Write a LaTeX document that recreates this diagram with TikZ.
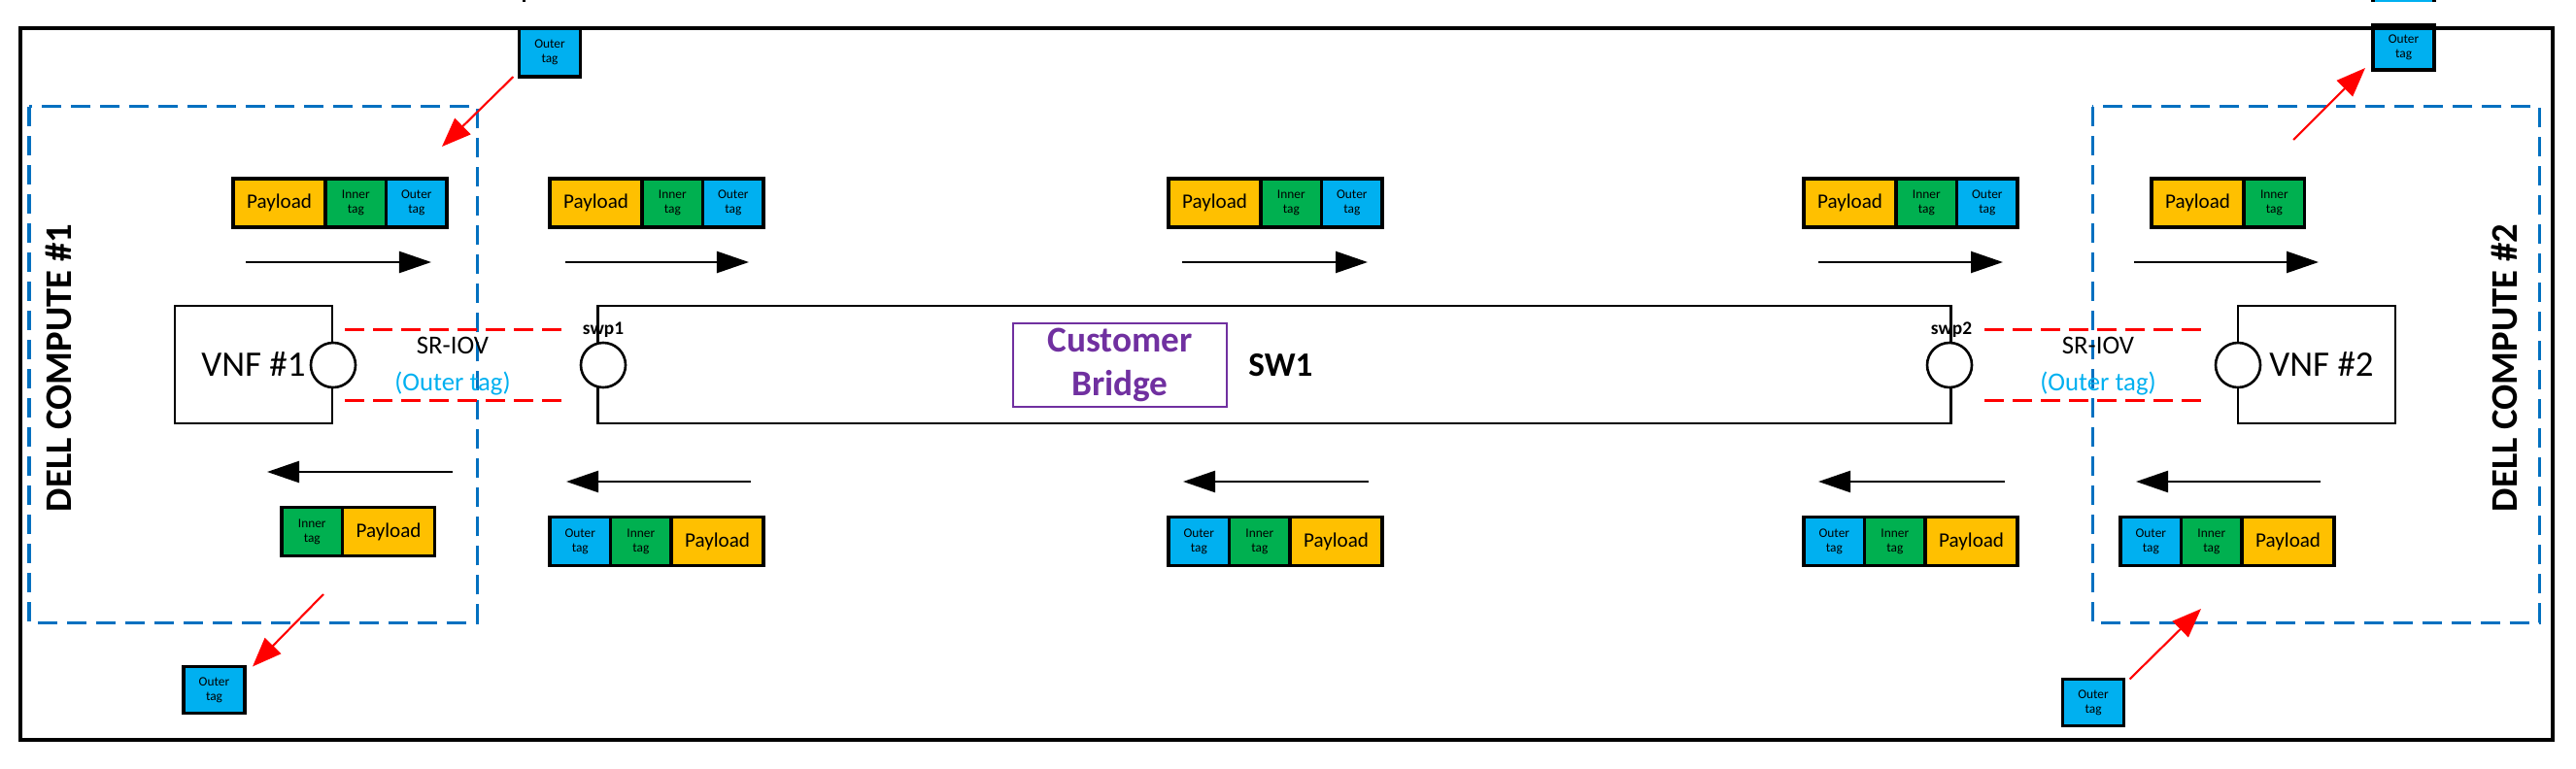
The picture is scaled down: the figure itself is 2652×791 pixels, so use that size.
\documentclass[tikz,border=0pt]{standalone}
\usepackage{fontspec}
\setmainfont{Carlito}
\usetikzlibrary{arrows.meta}
\definecolor{cPay}{HTML}{FFC000}
\definecolor{cIn}{HTML}{00B050}
\definecolor{cOut}{HTML}{00B0F0}
\definecolor{cBlue}{HTML}{0070C0}
\definecolor{cPurple}{HTML}{7030A0}
\definecolor{cRed}{HTML}{FF0000}
\newcommand\paysize{\fontsize{6}{7}\selectfont}
\newcommand\tagsize{\fontsize{3.8}{4.3}\selectfont}
\begin{document}
\begin{tikzpicture}[x=0.01cm,y=-0.01cm,
  seg/.style={draw=black, line width=0.036cm, minimum height=0.5cm, inner sep=0pt, outer sep=0pt, anchor=west},
  pay/.style={seg, fill=cPay, minimum width=0.95cm, font=\paysize},
  inn/.style={seg, fill=cIn, minimum width=0.625cm, font=\tagsize, align=center},
  outt/.style={seg, fill=cOut, minimum width=0.625cm, font=\tagsize, align=center},
  lonetag/.style={draw=black, line width=0.036cm, fill=cOut, minimum width=0.63cm, minimum height=0.48cm, inner sep=0pt, outer sep=0pt, font=\tagsize, align=center},
  boxx/.style={draw=black, line width=0.028cm, inner sep=0pt, outer sep=0pt},
  port/.style={circle, draw=black, fill=white, minimum size=0.46cm, inner sep=0pt, line width=0.026cm},
  flow/.style={line width=0.024cm, -{Triangle[length=0.33cm,width=0.22cm]}},
  redarr/.style={cRed, line width=0.021cm, -{Triangle[length=0.3cm,width=0.23cm]}},
  tunnel/.style={cRed, line width=0.03cm, dash pattern=on 0.2cm off 0.09cm},
  compute/.style={cBlue, line width=0.03cm, dash pattern=on 0.2cm off 0.1cm},
  sriov/.style={font=\fontsize{7.6}{9}\selectfont, anchor=base},
  portlbl/.style={font=\bfseries\fontsize{5.5}{6}\selectfont, anchor=base},
  dell/.style={rotate=90, font=\bfseries\fontsize{11}{13}\selectfont}
]
\useasboundingbox (0,0) rectangle (2652,791);

% compute hosts (dashed)
\draw[compute] (30,110) rectangle (491,641);
\draw[compute] (2154,110) rectangle (2614,641);
\node[dell] (dc1) at (60.5,379) {DELL COMPUTE \#1};
\node[dell] (dc2) at (2578,379) {DELL COMPUTE \#2};

% SR-IOV tunnels
\coordinate (t1a) at (355,339); \coordinate (t1b) at (585,339);
\coordinate (t1c) at (355,412); \coordinate (t1d) at (585,412);
\coordinate (t2a) at (2043,339); \coordinate (t2b) at (2272,339);
\coordinate (t2c) at (2043,412); \coordinate (t2d) at (2272,412);
\draw[tunnel] (t1a) -- (t1b);
\draw[tunnel] (t1c) -- (t1d);
\draw[tunnel] (t2a) -- (t2b);
\draw[tunnel] (t2c) -- (t2d);
\node[sriov] (sr1) at (466,364) {SR-IOV};
\node[sriov, text=cOut] (sr1b) at (466,402) {(Outer tag)};
\node[sriov] (sr2) at (2160,364) {SR-IOV};
\node[sriov, text=cOut] (sr2b) at (2160,402) {(Outer tag)};

% boxes
\node[boxx, minimum width=1.62cm, minimum height=1.21cm, font=\fontsize{10.5}{12}\selectfont] (vnf1) at (261,375.5) {VNF \#1};
\node[boxx, minimum width=1.62cm, minimum height=1.21cm, font=\fontsize{10.5}{12}\selectfont] (vnf2) at (2385,375.5) {\hspace*{0.1cm}VNF \#2};
\node[boxx, minimum width=13.92cm, minimum height=1.21cm] (sw1) at (1312,375.5) {};
\node[draw=cPurple, line width=0.018cm, minimum width=2.2cm, minimum height=0.86cm, inner sep=0pt, text=cPurple, font=\bfseries\fontsize{10.6}{12.8}\selectfont, align=center] (cb) at (1153,376) {Customer\\Bridge};
\node[font=\bfseries\fontsize{10}{12}\selectfont, anchor=base west] (sw1t) at (1273,387) {SW1};

% ports
\node[port] (vnf1p) at (343,376) {};
\node[port] (swp1p) at (621,376) {};
\node[port] (swp2p) at (2007,376) {};
\node[port] (vnf2p) at (2304,376) {};
\node[portlbl] (swp1) at (621,344) {swp1};
\node[portlbl] (swp2) at (2009,344) {swp2};

% top row packets
\node[pay] (p1a) at (240,209) {Payload};
\node[inn] (p1b) at (p1a.east) {Inner\\tag};
\node[outt] (p1c) at (p1b.east) {Outer\\tag};
\node[pay] (p2a) at (566,209) {Payload};
\node[inn] (p2b) at (p2a.east) {Inner\\tag};
\node[outt] (p2c) at (p2b.east) {Outer\\tag};
\node[pay] (p3a) at (1203,209) {Payload};
\node[inn] (p3b) at (p3a.east) {Inner\\tag};
\node[outt] (p3c) at (p3b.east) {Outer\\tag};
\node[pay] (p4a) at (1857,209) {Payload};
\node[inn] (p4b) at (p4a.east) {Inner\\tag};
\node[outt] (p4c) at (p4b.east) {Outer\\tag};
\node[pay] (p5a) at (2215,209) {Payload};
\node[inn] (p5b) at (p5a.east) {Inner\\tag};

% bottom row packets
\node[inn] (q1a) at (290,547.5) {Inner\\tag};
\node[pay] (q1b) at (q1a.east) {Payload};
\node[outt] (q2a) at (566,557.5) {Outer\\tag};
\node[inn] (q2b) at (q2a.east) {Inner\\tag};
\node[pay] (q2c) at (q2b.east) {Payload};
\node[outt] (q3a) at (1203,557.5) {Outer\\tag};
\node[inn] (q3b) at (q3a.east) {Inner\\tag};
\node[pay] (q3c) at (q3b.east) {Payload};
\node[outt] (q4a) at (1857,557.5) {Outer\\tag};
\node[inn] (q4b) at (q4a.east) {Inner\\tag};
\node[pay] (q4c) at (q4b.east) {Payload};
\node[outt] (q5a) at (2183,557.5) {Outer\\tag};
\node[inn] (q5b) at (q5a.east) {Inner\\tag};
\node[pay] (q5c) at (q5b.east) {Payload};

% flow arrows
\coordinate (a1s) at (253,270);  \coordinate (a1e) at (444,270);
\coordinate (a2s) at (582,270);  \coordinate (a2e) at (771,270);
\coordinate (a3s) at (1217,270); \coordinate (a3e) at (1408,270);
\coordinate (a4s) at (1872,270); \coordinate (a4e) at (2062,270);
\coordinate (a5s) at (2197,270); \coordinate (a5e) at (2387,270);
\coordinate (b1s) at (466,486);  \coordinate (b1e) at (275,486);
\coordinate (b2s) at (773,496);  \coordinate (b2e) at (583,496);
\coordinate (b3s) at (1409,496); \coordinate (b3e) at (1218,496);
\coordinate (b4s) at (2064,496); \coordinate (b4e) at (1872,496);
\coordinate (b5s) at (2389,496); \coordinate (b5e) at (2199,496);
\foreach \n in {a1,a2,a3,a4,a5,b1,b2,b3,b4,b5} {\draw[flow] (\n s) -- (\n e);}

% lone outer tags
\node[lonetag, minimum height=0.5cm] (T1) at (566,54) {Outer\\tag};
\node[lonetag, minimum height=0.46cm] (T2) at (2474.5,49) {Outer\\tag};
\node[lonetag] (T3) at (220.5,710.5) {Outer\\tag};
\node[lonetag] (T4) at (2155,723.5) {Outer\\tag};
% cut-off pieces above the frame
\fill[cOut] (2443,-30) rectangle (2506,2);
\draw[line width=0.036cm] (2443,-30) -- (2443,2) (2506,-30) -- (2506,2);
\draw[line width=0.03cm] (539,-10) -- (539,2);

% red arrows
\coordinate (r1) at (455,151);
\coordinate (r2) at (333,612);
\coordinate (r3) at (2361,144);
\coordinate (r4) at (2266,627);
\draw[redarr] ([xshift=-0.06cm]T1.south west) -- (r1);
\draw[redarr] (r2) -- ([xshift=0.08cm]T3.north east);
\draw[redarr] (r3) -- ([xshift=-0.08cm,yshift=0.02cm]T2.south west);
\draw[redarr] ([xshift=0.06cm]T4.north east) -- (r4);

% outer frame
\draw[line width=0.048cm] (21,29) rectangle (2628,762);
\end{tikzpicture}
\end{document}
